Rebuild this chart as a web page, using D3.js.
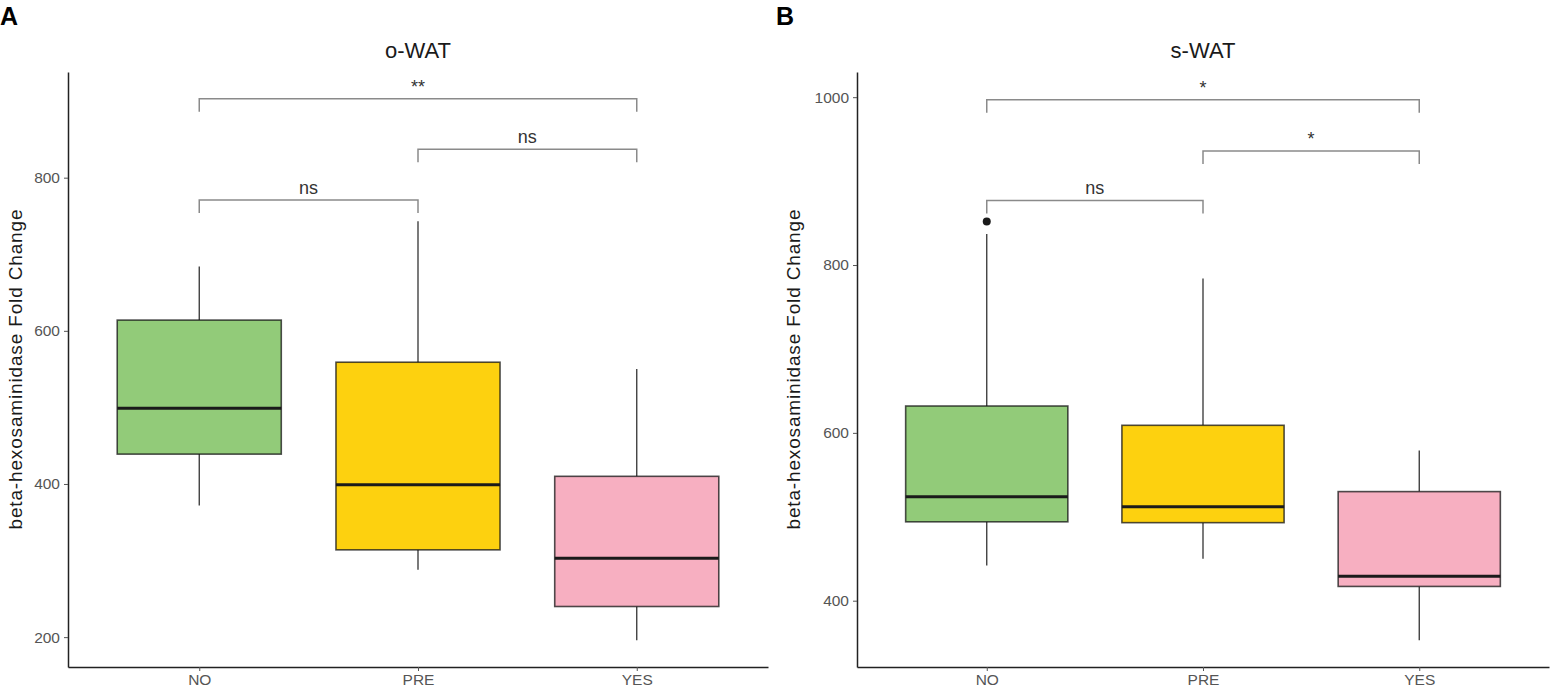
<!DOCTYPE html>
<html>
<head>
<meta charset="utf-8">
<script src="https://cdn.jsdelivr.net/npm/d3@7"></script>
<style>
  body { margin: 0; background: #fff; }
  svg { font-family: "Liberation Sans", Arial, sans-serif; }
</style>
</head>
<body>
<svg id="chart" width="1552" height="696"></svg>
<script>
const groups = ["NO", "PRE", "YES"];

// o-WAT box stats
const oWatLow = [372, 288, 196];
const oWatQ1 = [439, 314, 240];
const oWatMedian = [499, 399, 303];
const oWatQ3 = [614, 559, 410];
const oWatHigh = [684, 743, 550];
const oWatOutliers = [];
const oWatTicks = [200, 400, 600, 800];
const oWatTests = [
  { from: "NO", to: "PRE", y: 771, label: "ns" },
  { from: "PRE", to: "YES", y: 837, label: "ns" },
  { from: "NO", to: "YES", y: 903, label: "**" }
];

// s-WAT box stats
const sWatLow = [442, 450, 353];
const sWatQ1 = [494, 493, 417];
const sWatMedian = [524, 512, 429];
const sWatQ3 = [632, 609, 530];
const sWatHigh = [837, 784, 579];
const sWatOutliers = [{ group: "NO", value: 852 }];
const sWatTicks = [400, 600, 800, 1000];
const sWatTests = [
  { from: "NO", to: "PRE", y: 877, label: "ns" },
  { from: "PRE", to: "YES", y: 936, label: "*" },
  { from: "NO", to: "YES", y: 997, label: "*" }
];

const fills = { NO: "#92cb79", PRE: "#fdd10f", YES: "#f7afc1" };

const svg = d3.select("#chart");
const plotTop = 72, plotBottom = 667;

const panel = cfg => {
  const data = groups.map((g, i) => ({
    group: g,
    low: cfg.low[i], q1: cfg.q1[i], median: cfg.median[i], q3: cfg.q3[i], high: cfg.high[i]
  }));

  // band centres sit at 0.6 / 1.6 / 2.6 of 3.2 units, like ggplot's discrete expansion
  const x = d3.scalePoint()
    .domain(groups)
    .range([cfg.left, cfg.right])
    .padding(0.6);
  const boxW = x.step() * 0.75;

  const y = d3.scaleLinear().domain(cfg.domain).range([plotBottom, plotTop]);

  const g = svg.append("g");

  // panel letter
  g.append("text")
    .attr("x", cfg.letterX)
    .attr("y", 25)
    .text(cfg.letter)
    .style("font-size", "25px")
    .style("font-weight", "bold")
    .attr("fill", "#000");

  // title
  g.append("text")
    .attr("x", (cfg.left + cfg.right) / 2)
    .attr("y", 58)
    .attr("text-anchor", "middle")
    .text(cfg.title)
    .style("font-size", "22px")
    .attr("fill", "#1a1a1a");

  // y axis
  const yAxis = d3.axisLeft(y)
    .tickValues(cfg.ticks)
    .tickFormat(d3.format("d"))
    .tickSize(4)
    .tickSizeOuter(0)
    .tickPadding(4);
  const yG = g.append("g")
    .attr("transform", `translate(${cfg.left}, 0)`)
    .call(yAxis);
  yG.select(".domain").attr("stroke", "#222").attr("stroke-width", 1.5);
  yG.selectAll(".tick line").attr("stroke", "#555");
  yG.selectAll(".tick text")
    .attr("fill", "#555")
    .style("font-size", "15.5px");

  // x axis
  const xAxis = d3.axisBottom(x).tickSize(4).tickSizeOuter(0).tickPadding(3);
  const xG = g.append("g")
    .attr("transform", `translate(0, ${plotBottom})`)
    .call(xAxis);
  xG.select(".domain").attr("stroke", "#222").attr("stroke-width", 1.5);
  xG.selectAll(".tick line").attr("stroke", "#555");
  xG.selectAll(".tick text")
    .attr("fill", "#555")
    .style("font-size", "15.5px");

  // y label
  g.append("text")
    .attr("transform", `translate(${cfg.left - cfg.labelOffset}, ${(plotTop + plotBottom) / 2}) rotate(-90)`)
    .attr("text-anchor", "middle")
    .attr("textLength", 320)
    .attr("lengthAdjust", "spacing")
    .text("beta-hexosaminidase Fold Change")
    .style("font-size", "19px")
    .attr("fill", "#1a1a1a");

  // whiskers
  g.selectAll(".whisker-hi")
    .data(data)
    .enter()
    .append("line")
    .attr("x1", d => x(d.group))
    .attr("x2", d => x(d.group))
    .attr("y1", d => y(d.q3))
    .attr("y2", d => y(d.high))
    .attr("stroke", "#333")
    .attr("stroke-width", 1.3);

  g.selectAll(".whisker-lo")
    .data(data)
    .enter()
    .append("line")
    .attr("x1", d => x(d.group))
    .attr("x2", d => x(d.group))
    .attr("y1", d => y(d.q1))
    .attr("y2", d => y(d.low))
    .attr("stroke", "#333")
    .attr("stroke-width", 1.3);

  // boxes
  g.selectAll(".box")
    .data(data)
    .enter()
    .append("rect")
    .attr("x", d => x(d.group) - boxW / 2)
    .attr("y", d => y(d.q3))
    .attr("width", boxW)
    .attr("height", d => y(d.q1) - y(d.q3))
    .attr("fill", d => fills[d.group])
    .attr("stroke", "rgba(20,20,20,0.75)")
    .attr("stroke-width", 1.6);

  // medians
  g.selectAll(".median")
    .data(data)
    .enter()
    .append("line")
    .attr("x1", d => x(d.group) - boxW / 2)
    .attr("x2", d => x(d.group) + boxW / 2)
    .attr("y1", d => y(d.median))
    .attr("y2", d => y(d.median))
    .attr("stroke", "#1a1a1a")
    .attr("stroke-width", 3);

  // outliers
  g.selectAll(".outlier")
    .data(cfg.outliers)
    .enter()
    .append("circle")
    .attr("cx", d => x(d.group))
    .attr("cy", d => y(d.value))
    .attr("r", 4)
    .attr("fill", "#1a1a1a");

  // significance brackets
  const tip = 13;
  cfg.tests.forEach(t => {
    const x1 = x(t.from), x2 = x(t.to), yy = y(t.y);
    g.append("path")
      .attr("d", `M${x1},${yy + tip} V${yy} H${x2} V${yy + tip}`)
      .attr("fill", "none")
      .attr("stroke", "#8a8a8a")
      .attr("stroke-width", 1.5);
    g.append("text")
      .attr("x", (x1 + x2) / 2)
      .attr("y", yy - 6)
      .attr("text-anchor", "middle")
      .text(t.label)
      .style("font-size", "18px")
      .attr("fill", "#333");
  });
};

panel({
  letter: "A", letterX: 0, title: "o-WAT", labelOffset: 46,
  left: 68, right: 768, domain: [161, 938], ticks: oWatTicks,
  low: oWatLow, q1: oWatQ1, median: oWatMedian, q3: oWatQ3, high: oWatHigh,
  outliers: oWatOutliers, tests: oWatTests
});

panel({
  letter: "B", letterX: 776, title: "s-WAT", labelOffset: 57,
  left: 857, right: 1549, domain: [321, 1030], ticks: sWatTicks,
  low: sWatLow, q1: sWatQ1, median: sWatMedian, q3: sWatQ3, high: sWatHigh,
  outliers: sWatOutliers, tests: sWatTests
});
</script>
</body>
</html>
